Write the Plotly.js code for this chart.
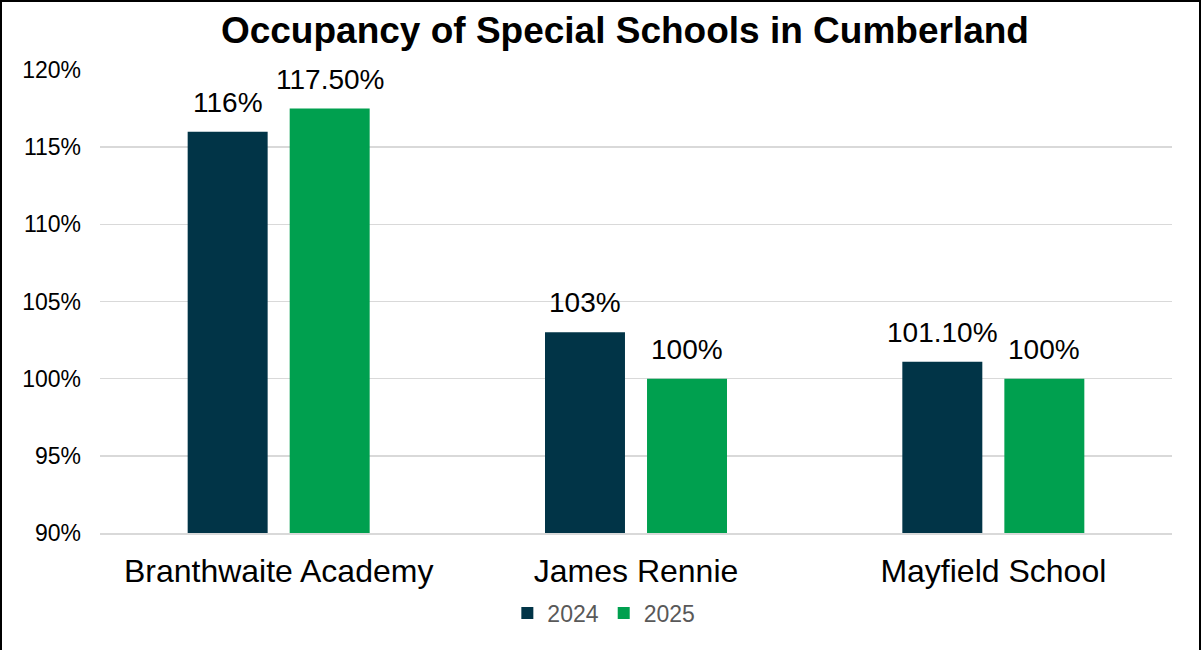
<!DOCTYPE html>
<html>
<head>
<meta charset="utf-8">
<script src="https://cdn.plot.ly/plotly-3.0.1.min.js"></script>
<style>
html,body{margin:0;padding:0;background:#fff;overflow:hidden;}
#frame{position:absolute;left:0;top:0;width:1201px;height:660px;border:2px solid #000;box-sizing:border-box;pointer-events:none;}
#chart{position:absolute;left:0;top:0;width:1203px;height:650px;}
</style>
</head>
<body>
<div id="chart"></div>
<div id="frame"></div>
<script>
var schools = ["Branthwaite Academy", "James Rennie", "Mayfield School"];
var values2024 = [116, 103, 101.1];
var values2025 = [117.5, 100, 100];
var labels2024 = ["116%", "103%", "101.10%"];
var labels2025 = ["117.50%", "100%", "100%"];
var yTickVals = [90, 95, 100, 105, 110, 115, 120];
var yTickText = ["90%", "95%", "100%", "105%", "110%", "115%", "120%"];

var FONT = "Liberation Sans, Arial, sans-serif";

var t1 = {type: "bar", name: "2024", x: schools, y: values2024, marker: {color: "#013447"}, hoverinfo: "skip"};
var t2 = {type: "bar", name: "2025", x: schools, y: values2025, marker: {color: "#00A04F"}, hoverinfo: "skip"};

var annotations = [];
function addLabels(vals, labels, shift) {
  for (var i = 0; i < schools.length; i++) {
    annotations.push({
      x: schools[i], y: vals[i], xref: "x", yref: "y",
      text: labels[i], showarrow: false,
      xanchor: "center", yanchor: "bottom", xshift: shift, yshift: 12,
      font: {family: FONT, size: 28, color: "#000"}
    });
  }
}
addLabels(values2024, labels2024, -51);
addLabels(values2025, labels2025, 51);

var layout = {
  width: 1203, height: 650,
  margin: {l: 100, r: 31, t: 70, b: 117},
  paper_bgcolor: "#fff", plot_bgcolor: "#fff",
  font: {family: FONT, color: "#000"},
  title: {text: "<b>Occupancy of Special Schools in Cumberland</b>", x: 0.5195, xanchor: "center", y: 0.954, yanchor: "middle",
          font: {size: 37, color: "#000", family: FONT}},
  barmode: "group",
  bargap: 0.429,
  bargroupgap: 0.216,
  showlegend: true,
  legend: {orientation: "h", x: 0.470, xanchor: "center", y: -0.173, yanchor: "middle",
           font: {size: 23, color: "#595959", family: FONT}, itemwidth: 30, traceorder: "normal"},
  annotations: annotations,
  xaxis: {type: "category", showgrid: false, showline: true, linecolor: "#d9d9d9", linewidth: 2,
          ticks: "", ticklabelstandoff: 9, tickfont: {size: 32, color: "#000", family: FONT}, automargin: false},
  yaxis: {range: [90, 120], tickvals: yTickVals, ticktext: yTickText, showgrid: true,
          gridcolor: "#d9d9d9", gridwidth: 1.5, zeroline: false, showline: false,
          ticks: "", ticklabelstandoff: 18, tickfont: {size: 23, color: "#000", family: FONT}, automargin: false}
};

Plotly.newPlot("chart", [t1, t2], layout, {staticPlot: true, displayModeBar: false});
</script>
</body>
</html>
